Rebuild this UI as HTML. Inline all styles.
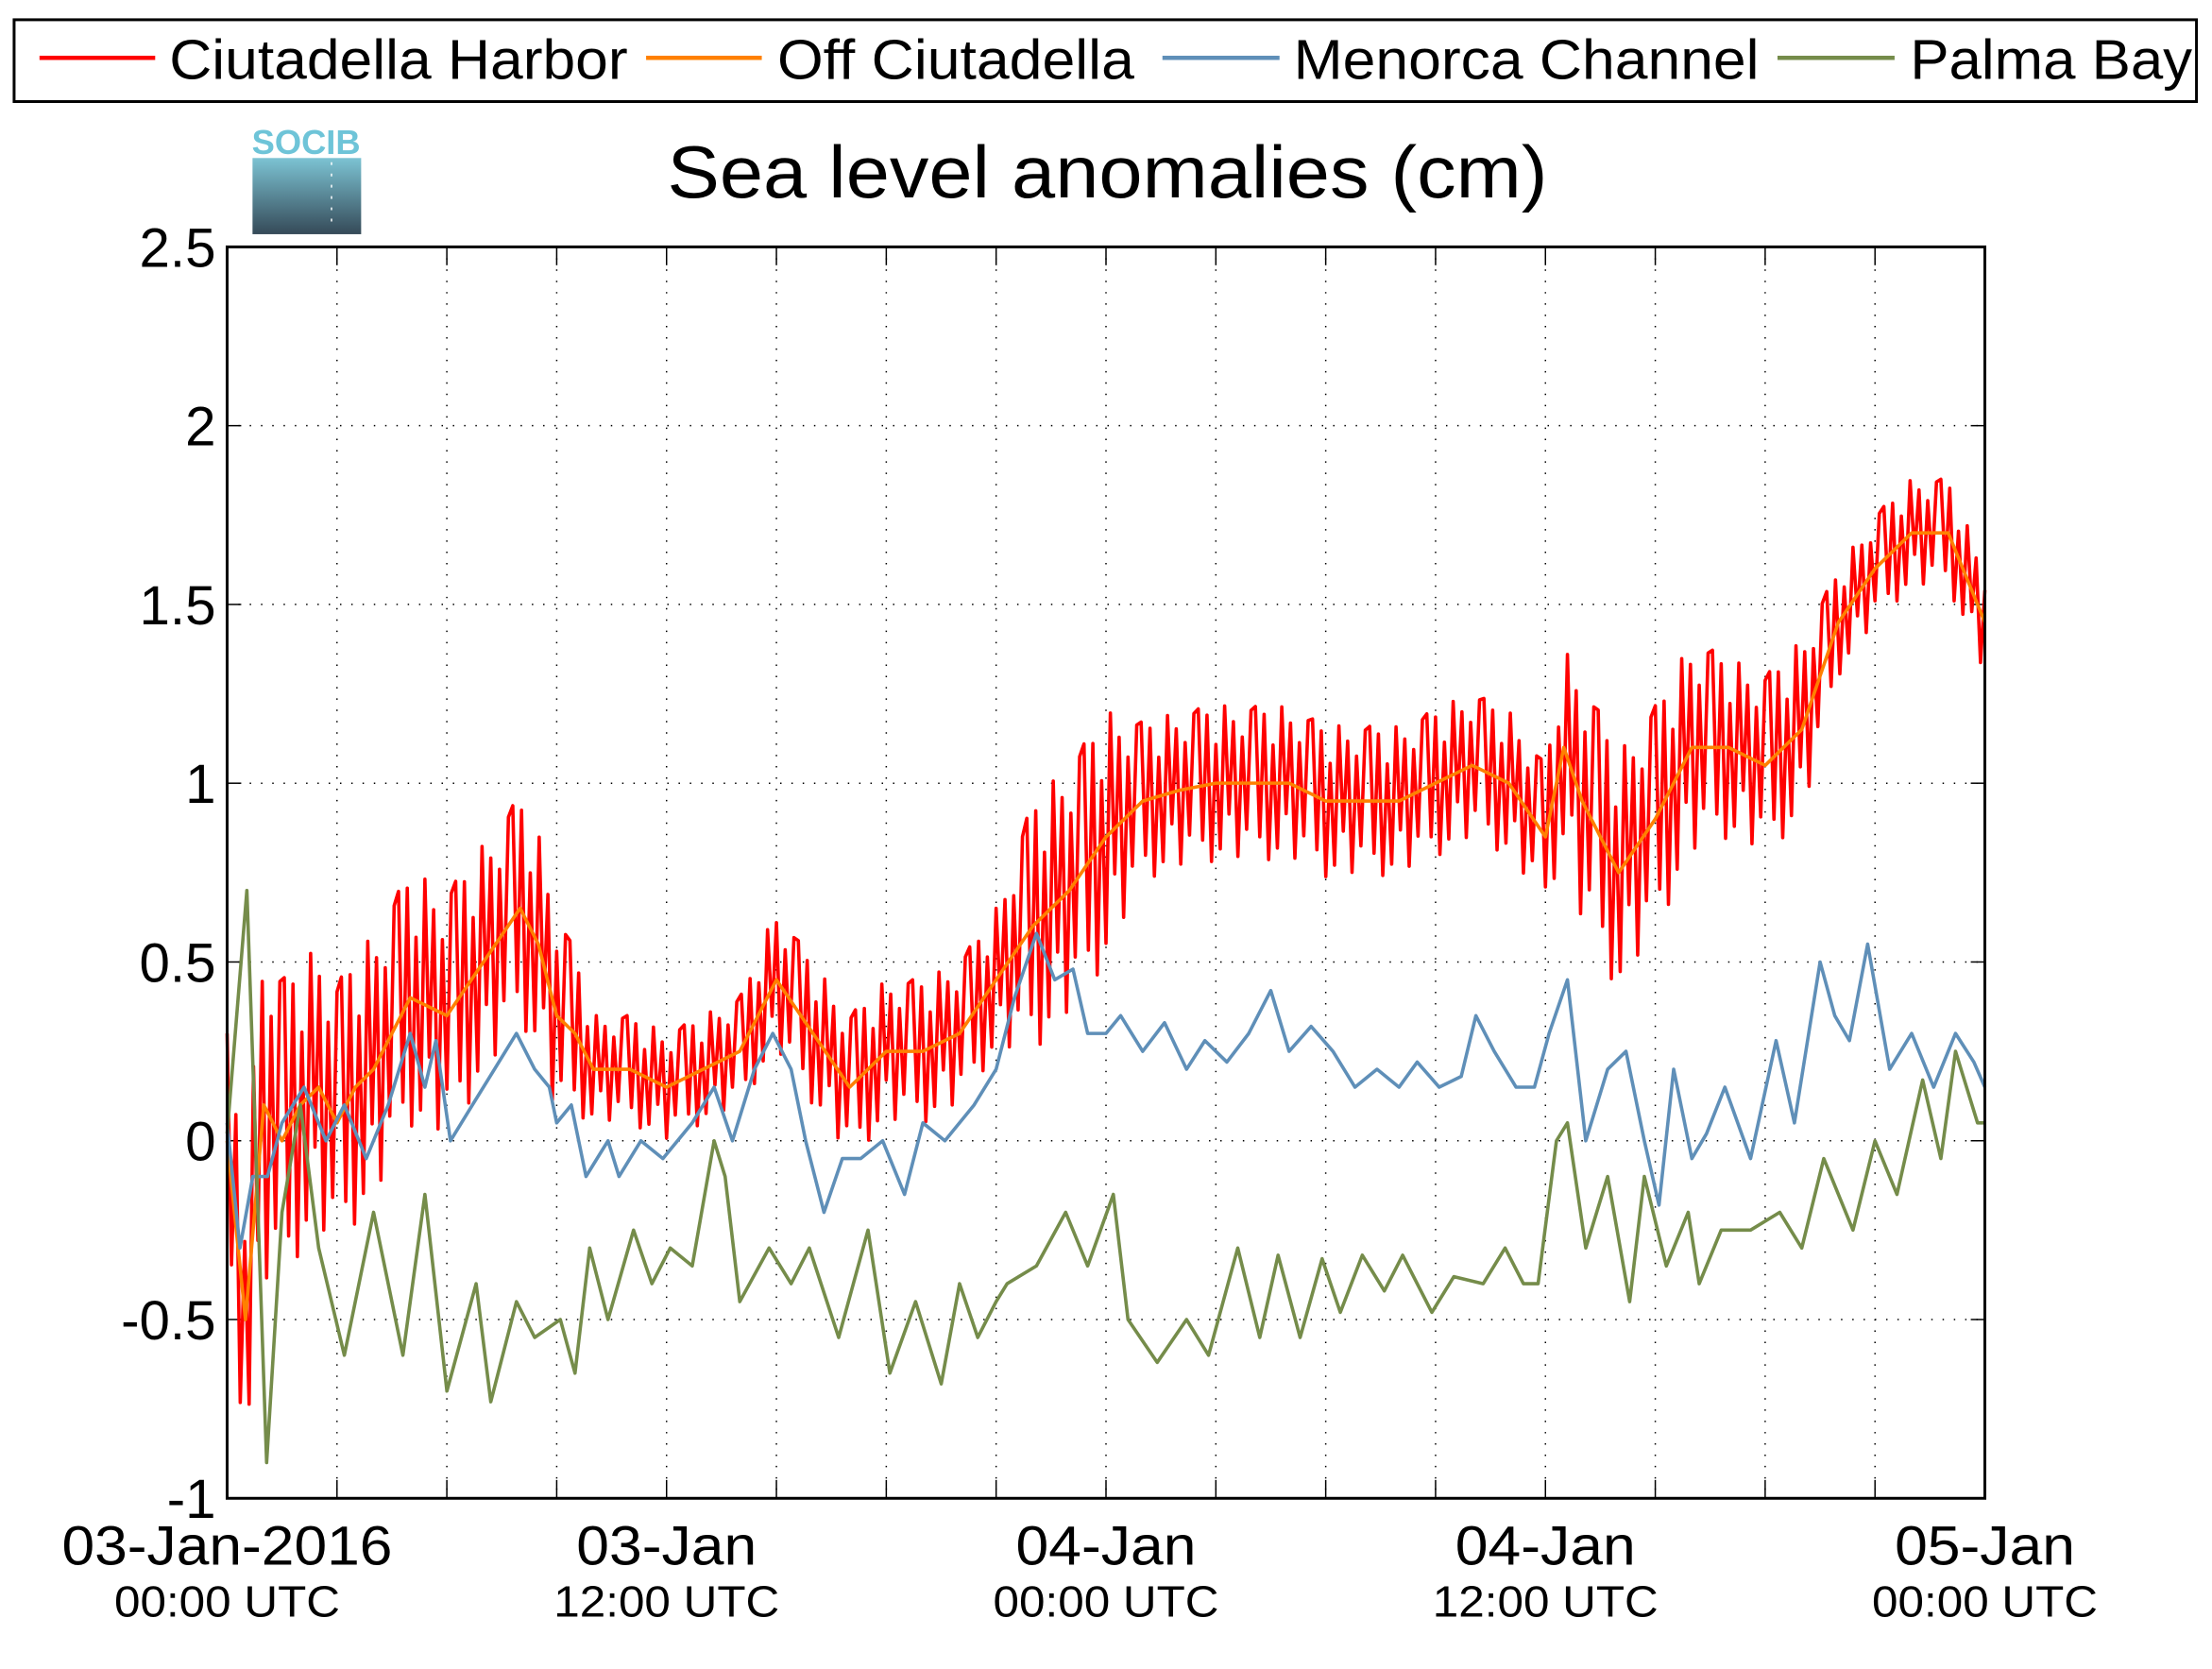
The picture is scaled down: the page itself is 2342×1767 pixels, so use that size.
<!DOCTYPE html>
<html><head><meta charset="utf-8"><style>
html,body{margin:0;padding:0;background:#fff}
svg{display:block}
text{font-family:"Liberation Sans",sans-serif}
</style></head><body>
<svg id="chart" width="2342" height="1767" viewBox="0 0 1568 1183" preserveAspectRatio="none" xmlns="http://www.w3.org/2000/svg">
<defs><linearGradient id="lg" x1="0" y1="0" x2="0" y2="1"><stop offset="0" stop-color="#7cc3d3"/><stop offset="1" stop-color="#354a58"/></linearGradient></defs>
<g>
<rect x="10" y="14" width="1547" height="58" fill="#fff" stroke="#000" stroke-width="2"/>
<line x1="28" y1="41" x2="110" y2="41" stroke="#ff0000" stroke-width="3"/>
<text x="120" y="56" font-size="40" textLength="325" lengthAdjust="spacingAndGlyphs">Ciutadella Harbor</text>
<line x1="458" y1="41" x2="540" y2="41" stroke="#ff8000" stroke-width="3"/>
<text x="551" y="56" font-size="40" textLength="253" lengthAdjust="spacingAndGlyphs">Off Ciutadella</text>
<line x1="824" y1="41" x2="907" y2="41" stroke="#5f8fb8" stroke-width="3"/>
<text x="917" y="56" font-size="40" textLength="330" lengthAdjust="spacingAndGlyphs">Menorca Channel</text>
<line x1="1260" y1="41" x2="1343" y2="41" stroke="#758c4a" stroke-width="3"/>
<text x="1354" y="56" font-size="40" textLength="200" lengthAdjust="spacingAndGlyphs">Palma Bay</text>
</g>
<g>
<text x="217" y="109" font-size="24" fill="#6ec4d8" text-anchor="middle" font-weight="bold" textLength="77" lengthAdjust="spacingAndGlyphs">SOCIB</text>
<rect x="179" y="112" width="77" height="54" fill="url(#lg)"/>
<line x1="235" y1="115" x2="235" y2="160" stroke="#fff" stroke-dasharray="2,6"/>
</g>
<text x="785" y="140" font-size="52" text-anchor="middle" textLength="624" lengthAdjust="spacingAndGlyphs">Sea level anomalies (cm)</text>
<g id="axes"></g>
<g id="series"></g>
<rect x="161" y="175" width="1246" height="887" fill="none" stroke="#000" stroke-width="2"/>
</svg>
<script>
const yTicks=[2.5,2,1.5,1,0.5,0,-0.5,-1];
const xLabelHours=[0,12,24,36,48];
const xLabelTop=["03-Jan-2016","03-Jan","04-Jan","04-Jan","05-Jan"];
const xLabelBottom=["00:00 UTC","12:00 UTC","00:00 UTC","12:00 UTC","00:00 UTC"];
const greenH=[0,0.54,1.08,1.5,2,2.5,3.2,4,4.8,5.4,6,6.8,7.2,7.9,8.4,9.1,9.5,9.9,10.4,11.1,11.6,12.1,12.7,13.3,13.6,14,14.8,15.4,15.9,16.7,17.5,18.1,18.8,19.5,20,20.5,21,21.3,22.1,22.9,23.5,24.2,24.6,25.4,26.2,26.8,27.6,28.2,28.7,29.3,29.9,30.4,31,31.6,32.1,32.9,33.5,34.3,34.9,35.4,35.8,36.3,36.6,37.1,37.7,38.3,38.7,39.3,39.9,40.2,40.8,41.6,42.4,43,43.6,44.4,45,45.6,46.3,46.8,47.2,47.8,48];
const greenV=[0.02,0.7,-0.9,-0.2,0.1,-0.3,-0.6,-0.2,-0.6,-0.15,-0.7,-0.4,-0.73,-0.45,-0.55,-0.5,-0.65,-0.3,-0.5,-0.25,-0.4,-0.3,-0.35,0.0,-0.1,-0.45,-0.3,-0.4,-0.3,-0.55,-0.25,-0.65,-0.45,-0.68,-0.4,-0.55,-0.45,-0.4,-0.35,-0.2,-0.35,-0.15,-0.5,-0.62,-0.5,-0.6,-0.3,-0.55,-0.32,-0.55,-0.33,-0.48,-0.32,-0.42,-0.32,-0.48,-0.38,-0.4,-0.3,-0.4,-0.4,0.0,0.05,-0.3,-0.1,-0.45,-0.1,-0.35,-0.2,-0.4,-0.25,-0.25,-0.2,-0.3,-0.05,-0.25,0.0,-0.15,0.17,-0.05,0.25,0.05,0.05];
const blueH=[0,0.35,0.7,1.1,1.5,2.1,2.7,3.2,3.8,4.4,5,5.4,5.7,6.1,6.7,7.3,7.9,8.4,8.8,9,9.4,9.8,10.4,10.7,11.3,11.9,12.7,13.3,13.8,14.4,14.9,15.4,15.8,16.3,16.8,17.3,17.9,18.5,19,19.6,20.4,21,21.5,22.1,22.6,23.1,23.5,24,24.4,25,25.6,26.2,26.7,27.3,27.9,28.5,29,29.6,30.2,30.8,31.4,32,32.5,33.1,33.7,34.1,34.6,35.2,35.7,36.1,36.6,37.1,37.7,38.2,38.7,39.1,39.5,40,40.4,40.9,41.6,42.3,42.8,43.5,43.9,44.3,44.8,45.4,46,46.6,47.2,47.7,48];
const blueV=[0.05,-0.3,-0.1,-0.1,0.05,0.15,0.0,0.1,-0.05,0.1,0.3,0.15,0.28,0.0,0.1,0.2,0.3,0.2,0.15,0.05,0.1,-0.1,0.0,-0.1,0.0,-0.05,0.05,0.15,0.0,0.2,0.3,0.2,0.0,-0.2,-0.05,-0.05,0.0,-0.15,0.05,0.0,0.1,0.2,0.4,0.58,0.45,0.48,0.3,0.3,0.35,0.25,0.33,0.2,0.28,0.22,0.3,0.42,0.25,0.32,0.25,0.15,0.2,0.15,0.22,0.15,0.18,0.35,0.25,0.15,0.15,0.3,0.45,0.0,0.2,0.25,0.0,-0.18,0.2,-0.05,0.02,0.15,-0.05,0.28,0.05,0.5,0.35,0.28,0.55,0.2,0.3,0.15,0.3,0.22,0.15];
const orangeH=[0,0.5,1,1.5,2,2.5,3,3.5,4,5,6,7,8,8.5,9,9.5,10,11,12,13,14,15,16,17,18,19,20,21,22,23,24,25,26,27,28,29,30,31,32,33,34,35,36,36.5,37,38,39,40,41,42,43,44,45,46,47,48];
const orangeV=[0.0,-0.5,0.1,0.0,0.1,0.15,0.05,0.15,0.2,0.4,0.35,0.5,0.65,0.55,0.35,0.3,0.2,0.2,0.15,0.2,0.25,0.45,0.3,0.15,0.25,0.25,0.3,0.45,0.6,0.7,0.85,0.95,0.98,1.0,1.0,1.0,0.95,0.95,0.95,1.0,1.05,1.0,0.85,1.1,0.95,0.75,0.9,1.1,1.1,1.05,1.15,1.45,1.6,1.7,1.7,1.45];
const redAmpH=[0,1,2,9,10,14,15,21,22,24,25,36,37,40,41,43,44,48];
const redAmpV=[0.3,0.5,0.4,0.3,0.15,0.15,0.2,0.2,0.35,0.35,0.22,0.2,0.35,0.3,0.25,0.25,0.15,0.15];

const L=161,R=1407,T=175,B=1062;
const xs=h=>L+(R-L)*h/48;
const ys=v=>B-(B-T)*(v+1)/3.5;
const NS="http://www.w3.org/2000/svg";
function mk(tag,attrs,parent){const e=document.createElementNS(NS,tag);for(const k in attrs)e.setAttribute(k,attrs[k]);parent.appendChild(e);return e;}
function interp(H,V,h){if(h<=H[0])return V[0];for(let i=1;i<H.length;i++){if(h<=H[i]){const t=(h-H[i-1])/(H[i]-H[i-1]);return V[i-1]+t*(V[i]-V[i-1]);}}return V[V.length-1];}
const axes=document.getElementById('axes');
yTicks.forEach(v=>{
  const y=ys(v);
  if(v<2.5&&v>-1){const g=mk('line',{x1:L,x2:R,y1:y,y2:y,stroke:'#000','stroke-width':1,'stroke-dasharray':'1,7'},axes);
  
  }
  mk('line',{x1:L,x2:L+10,y1:y,y2:y,stroke:'#000','stroke-width':1},axes);
  mk('line',{x1:R-10,x2:R,y1:y,y2:y,stroke:'#000','stroke-width':1},axes);
  const t=mk('text',{x:153,y:y+14,'font-size':39,'text-anchor':'end'},axes);
  
  
  t.textContent=String(v);
});
for(let h=3;h<48;h+=3){
  const x=xs(h);
  const g=mk('line',{x1:x,x2:x,y1:T,y2:B,stroke:'#000','stroke-width':1,'stroke-dasharray':'1,7'},axes);
  
  
  mk('line',{x1:x,x2:x,y1:B-13,y2:B,stroke:'#000','stroke-width':1},axes);
  mk('line',{x1:x,x2:x,y1:T,y2:T+13,stroke:'#000','stroke-width':1},axes);
}
xLabelHours.forEach((h,i)=>{
  const x=xs(h);
  const a=mk('text',{x:x,y:1109,'font-size':39,'text-anchor':'middle',textLength:xLabelTop[i].length*21.3,lengthAdjust:'spacingAndGlyphs'},axes);
  
  
  a.textContent=xLabelTop[i];
  const b=mk('text',{x:x,y:1146,'font-size':31,'text-anchor':'middle',textLength:160,lengthAdjust:'spacingAndGlyphs'},axes);
  
  
  b.textContent=xLabelBottom[i];
});
const ser=document.getElementById('series');
function poly(H,V,color,name,w){
  const pts=H.map((h,i)=>xs(h).toFixed(1)+','+ys(V[i]).toFixed(1)).join(' ');
  const p=mk('polyline',{points:pts,fill:'none',stroke:color,'stroke-width':w,'stroke-linejoin':'round'},ser);
  
  
}
const pat=[1,-0.7,0.9,-1,0.5,-0.85,1,-0.4,0.8,-0.95,0.6,-0.6,0.95];
const rp=[];let k=0;
for(let h=0;h<=48.001;h+=0.12){const m=interp(orangeH,orangeV,h),a=interp(redAmpH,redAmpV,h);rp.push(xs(h).toFixed(1)+','+ys(m+a*pat[k%pat.length]).toFixed(1));k++;}
const rl=mk('polyline',{points:rp.join(' '),fill:'none',stroke:'#ff0000','stroke-width':2.4,'stroke-linejoin':'round'},ser);


poly(orangeH,orangeV,'#ff8000','off-ciutadella-line',2.4);
poly(blueH,blueV,'#5f8fb8','menorca-channel-line',2.4);
poly(greenH,greenV,'#758c4a','palma-bay-line',2.4);
</script>
</body></html>
